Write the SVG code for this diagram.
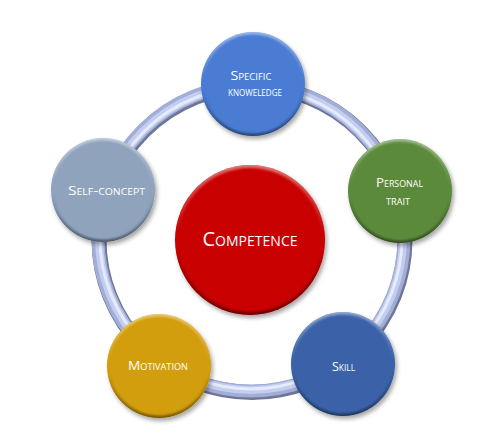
<svg xmlns="http://www.w3.org/2000/svg" width="500" height="442" viewBox="0 0 500 442">
<defs>
<linearGradient id="bev" x1="0" y1="0" x2="0" y2="1">
<stop offset="0" stop-color="#fff" stop-opacity="0.45"/>
<stop offset="0.45" stop-color="#fff" stop-opacity="0"/>
<stop offset="0.55" stop-color="#000" stop-opacity="0"/>
<stop offset="1" stop-color="#000" stop-opacity="0.45"/>
</linearGradient>
<filter id="sh" x="-20%" y="-20%" width="150%" height="150%">
<feDropShadow dx="2" dy="3" stdDeviation="2.2" flood-color="#000" flood-opacity="0.35"/>
</filter>
<filter id="soft" x="-10%" y="-10%" width="120%" height="120%">
<feGaussianBlur stdDeviation="1.1"/>
</filter>
</defs>
<style>
.lbl{font-family:"Open Sans","Liberation Sans",sans-serif;font-variant:small-caps;fill:#fff;text-anchor:middle;font-size:13.5px}
.big{font-size:20px}
.bevel{fill:url(#bev)}
</style>
<rect width="500" height="442" fill="#fff"/>
<g id="connectors">
<circle cx="251" cy="238" r="153" fill="none" stroke="#6f7696" stroke-width="15" transform="translate(1,1.5)"/>
<circle cx="251" cy="238" r="153" fill="none" stroke="#a3aed6" stroke-width="13"/>
<circle cx="251" cy="238" r="152" fill="none" stroke="#c3cdf0" stroke-width="8"/>
<circle cx="251" cy="238" r="151" fill="none" stroke="#e6ebfb" stroke-width="3"/>
</g>
<g id="competence">
<g filter="url(#sh)"><circle cx="250" cy="240" r="75" fill="#c80000"/></g>
<circle cx="250" cy="240" r="75" class="bevel"/>
<circle cx="250" cy="240" r="72" fill="#c80000" filter="url(#soft)"/>
<text x="250" y="246" class="lbl big" textLength="95" lengthAdjust="spacingAndGlyphs">Competence</text>
</g>
<g id="specific-knowledge">
<g filter="url(#sh)"><circle cx="253" cy="84" r="52" fill="#4a7cd2"/></g>
<circle cx="253" cy="84" r="52" class="bevel"/>
<circle cx="253" cy="84" r="49.5" fill="#4a7cd2" filter="url(#soft)"/>
<text x="251" y="80" class="lbl" textLength="41" lengthAdjust="spacingAndGlyphs">Specific</text>
<text x="255" y="96" class="lbl" textLength="54" lengthAdjust="spacingAndGlyphs">knoweledge</text>
</g>
<g id="personal-trait">
<g filter="url(#sh)"><circle cx="400" cy="191" r="52" fill="#5b8a3a"/></g>
<circle cx="400" cy="191" r="52" class="bevel"/>
<circle cx="400" cy="191" r="49.5" fill="#5b8a3a" filter="url(#soft)"/>
<text x="399.5" y="187" class="lbl" textLength="47" lengthAdjust="spacingAndGlyphs">Personal</text>
<text x="398" y="205" class="lbl" textLength="24" lengthAdjust="spacingAndGlyphs">trait</text>
</g>
<g id="self-concept">
<g filter="url(#sh)"><circle cx="103" cy="190" r="52" fill="#8fa3bd"/></g>
<circle cx="103" cy="190" r="52" class="bevel"/>
<circle cx="103" cy="190" r="49.5" fill="#8fa3bd" filter="url(#soft)"/>
<text x="106.5" y="195" class="lbl" textLength="77" lengthAdjust="spacingAndGlyphs">Self-concept</text>
</g>
<g id="motivation">
<g filter="url(#sh)"><circle cx="159" cy="366" r="52" fill="#d29e0a"/></g>
<circle cx="159" cy="366" r="52" class="bevel"/>
<circle cx="159" cy="366" r="49.5" fill="#d29e0a" filter="url(#soft)"/>
<text x="158" y="370" class="lbl" textLength="60" lengthAdjust="spacingAndGlyphs">Motivation</text>
</g>
<g id="skill">
<g filter="url(#sh)"><circle cx="343" cy="364" r="52" fill="#3b62a8"/></g>
<circle cx="343" cy="364" r="52" class="bevel"/>
<circle cx="343" cy="364" r="49.5" fill="#3b62a8" filter="url(#soft)"/>
<text x="343.5" y="371" class="lbl" textLength="23" lengthAdjust="spacingAndGlyphs">Skill</text>
</g>
</svg>
